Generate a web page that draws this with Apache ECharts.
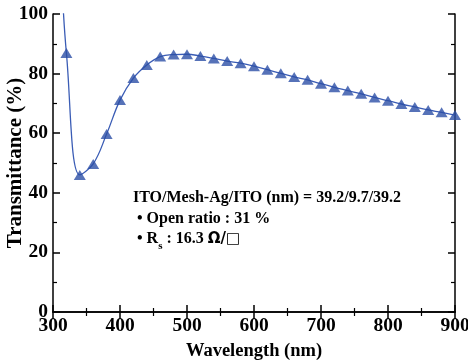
<!DOCTYPE html>
<html><head><meta charset="utf-8">
<script src="https://cdn.jsdelivr.net/npm/echarts@6/dist/echarts.min.js"></script>
<style>html,body{margin:0;padding:0;background:#fff}#c{width:468px;height:364px}</style>
</head><body><div id="c"></div>
<script>
var wavelengths = [320,340,360,380,400,420,440,460,480,500,520,540,560,580,600,620,640,660,680,700,720,740,760,780,800,820,840,860,880,900];
var transmittance = [86.9,46.0,49.7,59.7,71.1,78.5,82.9,85.7,86.4,86.5,85.9,85.1,84.2,83.5,82.5,81.3,80.1,78.9,77.9,76.6,75.4,74.3,73.2,72.0,70.9,69.8,68.8,67.8,67.0,66.1];
// the curve continues steeply above the frame left of the first marker
var leadWavelengths = [313];
var leadTransmittance = [112];
var xTicks = [300,400,500,600,700,800,900];
var yTicks = [0,20,40,60,80,100];
var noteLines = ['ITO/Mesh-Ag/ITO (nm) = 39.2/9.7/39.2', '• Open ratio : 31 %', '• R', 's', ' : 16.3 ', 'Ω/□'];

var F = '"Liberation Serif","Times New Roman",serif';
var lineData = leadWavelengths.map(function(w,i){return [w, leadTransmittance[i]];})
  .concat(wavelengths.map(function(w,i){return [w, transmittance[i]];}));
var markData = wavelengths.map(function(w,i){return [w, transmittance[i]];});

var chart = echarts.init(document.getElementById('c'), null, {renderer:'canvas'});
var axLine = {show:true, lineStyle:{color:'#000', width:1.5}};
chart.setOption({
  animation:false,
  grid:{left:53, right:13, top:14, bottom:52, containLabel:false, outerBoundsMode:'none'},
  xAxis:[{
    type:'value', min:300, max:900, interval:100, position:'bottom',
    axisLine:axLine, splitLine:{show:false},
    axisTick:{inside:true, length:7, lineStyle:{color:'#000', width:1.5}},
    minorTick:{show:true, splitNumber:2, length:4, lineStyle:{color:'#000', width:1.2}},
    axisLabel:{fontFamily:F, fontWeight:'bold', fontSize:19.5, color:'#000', margin:4,
      formatter:function(v){return xTicks.indexOf(v)>=0?String(v):'';}},
    name:'Wavelength (nm)', nameLocation:'middle', nameGap:30, nameMoveOverlap:false,
    nameTextStyle:{fontFamily:F, fontWeight:'bold', fontSize:18.5, color:'#000'}
  },{
    type:'value', min:300, max:900, interval:100, position:'top',
    axisLine:axLine, splitLine:{show:false},
    axisTick:{inside:true, length:7, lineStyle:{color:'#000', width:1.5}},
    minorTick:{show:true, splitNumber:2, length:4, lineStyle:{color:'#000', width:1.2}},
    axisLabel:{show:false}
  }],
  yAxis:[{
    type:'value', min:0, max:100, interval:20, position:'left',
    axisLine:axLine, splitLine:{show:false},
    axisTick:{inside:true, length:7, lineStyle:{color:'#000', width:1.5}},
    minorTick:{show:true, splitNumber:2, length:4, lineStyle:{color:'#000', width:1.2}},
    axisLabel:{fontFamily:F, fontWeight:'bold', fontSize:19.5, color:'#000', margin:5,
      formatter:function(v){return yTicks.indexOf(v)>=0?String(v):'';}},
    name:'Transmittance (%)', nameLocation:'middle', nameGap:27, nameMoveOverlap:false,
    nameTextStyle:{fontFamily:F, fontWeight:'bold', fontSize:21, color:'#000'}
  },{
    type:'value', min:0, max:100, interval:20, position:'right',
    axisLine:axLine, splitLine:{show:false},
    axisTick:{inside:true, length:7, lineStyle:{color:'#000', width:1.5}},
    minorTick:{show:true, splitNumber:2, length:4, lineStyle:{color:'#000', width:1.2}},
    axisLabel:{show:false}
  }],
  series:[{
    type:'line', data:lineData, smooth:0.4, showSymbol:false, clip:true,
    lineStyle:{color:'#3a5cb5', width:1.3}, z:2
  },{
    type:'scatter', data:markData, symbol:'triangle', symbolSize:[12,10],
    itemStyle:{color:'#2c4fa6'}, z:3
  }],
  graphic:[{
    type:'text', left:133, top:190,
    style:{text:noteLines[0], font:'bold 16px '+F, fill:'#000'}
  },{
    type:'text', left:137, top:210.5,
    style:{text:noteLines[1], font:'bold 16px '+F, fill:'#000'}
  },{
    type:'text', left:137, top:231,
    style:{
      text:'{a|'+noteLines[2]+'}{s|'+noteLines[3]+'}{a|'+noteLines[4]+'}{o|'+noteLines[5]+'}',
      rich:{a:{font:'bold 16px '+F, fill:'#000', verticalAlign:'top'},
            s:{font:'bold 11px '+F, fill:'#000', padding:[10,0,0,0], verticalAlign:'top'},
            o:{font:'bold 15px "DejaVu Sans",sans-serif', fill:'#000', padding:[1,0,0,0], verticalAlign:'top'}}
    }
  }]
});
</script></body></html>
